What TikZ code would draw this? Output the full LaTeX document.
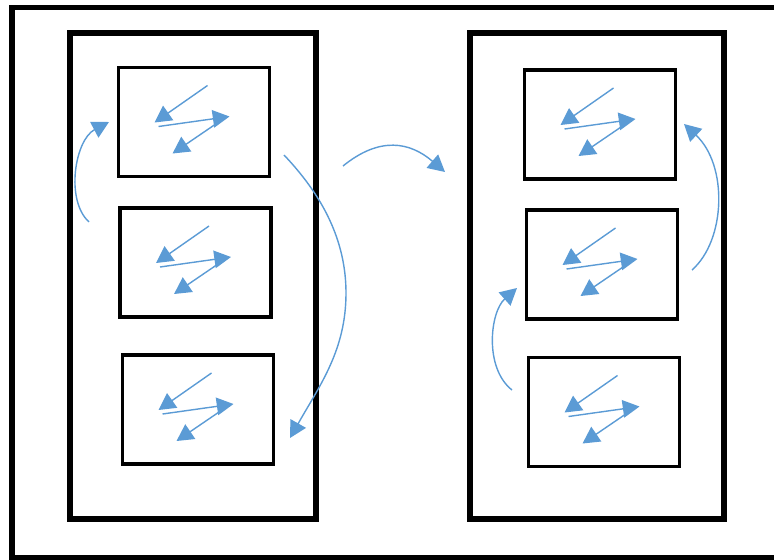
\documentclass[tikz,border=0pt]{standalone}
\usetikzlibrary{arrows.meta}
\definecolor{bleu}{RGB}{91,155,213}
\tikzset{
  colonne/.style={draw,line width=3.2pt,inner sep=0pt,outer sep=0pt,minimum height=9.72cm},
  vignette/.style={draw,line width=2.2pt,inner sep=0pt,outer sep=0pt,minimum width=3.02cm,minimum height=2.18cm},
  fleche/.style={bleu,line width=0.8pt,-{Triangle[length=9.5pt,width=10pt]}},
}
% les trois fleches dans une vignette
\newcommand{\fleches}[1]{%
  \begin{scope}[shift={(#1.north west)}]
    \draw[fleche] (89,18)--(36,55);
    \draw[fleche] (40,59)--(111,49);
    \draw[fleche] (98,56)--(54,86);
  \end{scope}}
\begin{document}
\begin{tikzpicture}[x=0.02cm,y=-0.02cm]
\useasboundingbox (0,0) rectangle (774,560);

\draw[line width=3.2pt] (12,7.5) rectangle (790,557.5);

\node[colonne,minimum width=4.92cm] (G) at (193,276) {};
\node[colonne,minimum width=5.08cm] (D) at (597,276) {};

\node[vignette] (g1) at (194,122) {};
\node[vignette] (g2) at (195.5,262.5) {};
\node[vignette] (g3) at (198,409.5) {};
\node[vignette] (d1) at (600,124.5) {};
\node[vignette] (d2) at (602,264.5) {};
\node[vignette] (d3) at (604,412) {};

\fleches{g1}\fleches{g2}\fleches{g3}
\fleches{d1}\fleches{d2}\fleches{d3}

% fleches courbes
\coordinate (a1) at (89,222);  \coordinate (a2) at (109,122);
\coordinate (b1) at (284,155); \coordinate (b2) at (290,438);
\coordinate (c1) at (343,166); \coordinate (c2) at (445,172);
\coordinate (e1) at (512,390); \coordinate (e2) at (517,288);
\coordinate (f1) at (692,270); \coordinate (f2) at (684,124);

\draw[fleche] (a1) .. controls (65,200) and (75,140) .. (a2);
\draw[fleche] (b1) .. controls (322,195) and (346,240) .. (346,293)
                   .. controls (346,350) and (320,385) .. (b2);
\draw[fleche] (c1) .. controls (380,136) and (410,142) .. (c2);
\draw[fleche] (e1) .. controls (484,368) and (490,312) .. (e2);
\draw[fleche] (f1) .. controls (726,240) and (728,165) .. (f2);
\end{tikzpicture}
\end{document}
